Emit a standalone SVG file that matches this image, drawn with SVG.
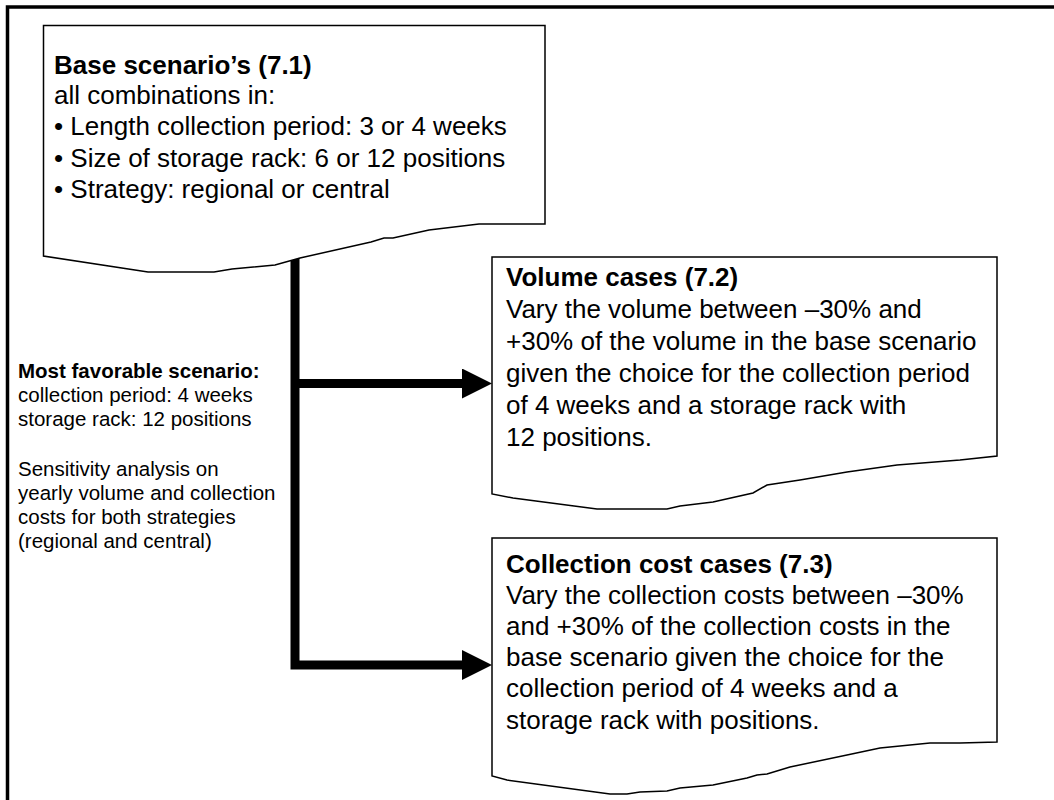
<svg xmlns="http://www.w3.org/2000/svg" width="1054" height="800" viewBox="0 0 1054 800">
<defs>
<style>
.box{fill:#fff;stroke:#000;stroke-width:1.5;stroke-linejoin:miter}
.t{font-family:"Liberation Sans",Arial,sans-serif;font-size:26px;fill:#000}
.s{font-family:"Liberation Sans",Arial,sans-serif;font-size:20.5px;fill:#000}
.b{font-weight:bold}
.conn{fill:none;stroke:#000;stroke-width:9;stroke-linejoin:miter}
</style>
<marker id="ah" markerUnits="userSpaceOnUse" markerWidth="30" markerHeight="30" refX="0" refY="15" orient="auto">
<path d="M0,0 L30,15 L0,30 Z" fill="#000"/>
</marker>
</defs>
<rect width="1054" height="800" fill="#fff"/>
<path d="M7.5,800 V7 H1054" fill="none" stroke="#000" stroke-width="3.5"/>
<g id="connectors">
<path class="conn" d="M295,256 V665 H462" marker-end="url(#ah)"/>
<path class="conn" d="M295,383.5 H462" marker-end="url(#ah)"/>
</g>
<g id="base">
<path class="box" d="M43.5,25.5 H545 V224 L479,224 L429,230 L393,238 L384,238 L371,242 L300,258 L275,265 L232,269 L214,272 L148,272 L43.5,256 Z"/>
<text class="t b" x="54" y="74">Base scenario’s (7.1)</text>
<text class="t" x="54" y="104">all combinations in:</text>
<text class="t" x="54" y="135">• Length collection period: 3 or 4 weeks</text>
<text class="t" x="54" y="167">• Size of storage rack: 6 or 12 positions</text>
<text class="t" x="54" y="198">• Strategy: regional or central</text>
</g>
<g id="note">
<text class="s b" x="18" y="378">Most favorable scenario:</text>
<text class="s" x="18" y="402">collection period: 4 weeks</text>
<text class="s" x="18" y="426">storage rack: 12 positions</text>
<text class="s" x="18" y="476">Sensitivity analysis on</text>
<text class="s" x="18" y="500">yearly volume and collection</text>
<text class="s" x="18" y="524">costs for both strategies</text>
<text class="s" x="18" y="548">(regional and central)</text>
</g>
<g id="volume">
<path class="box" d="M492,257 H997 V456 L960,460 L897,465 L847,472 L800,480 L767,485 L753,493 L713,502 L680,506 L667,509 L597,509 L513,498 L492,494 Z"/>
<text class="t b" x="506" y="286">Volume cases (7.2)</text>
<text class="t" x="506" y="318">Vary the volume between –30% and</text>
<text class="t" x="506" y="350">+30% of the volume in the base scenario</text>
<text class="t" x="506" y="382">given the choice for the collection period</text>
<text class="t" x="506" y="414">of 4 weeks and a storage rack with</text>
<text class="t" x="506" y="446">12 positions.</text>
</g>
<g id="collection">
<path class="box" d="M492,538 H997 V742 L960,743 L930,743 L880,748 L847,755 L790,767 L767,774 L757,775 L747,778 L713,785 L680,788 L667,791 L640,792 L627,794 L610,794 L507,780 L492,776 Z"/>
<text class="t b" x="506" y="573">Collection cost cases (7.3)</text>
<text class="t" x="506" y="604">Vary the collection costs between –30%</text>
<text class="t" x="506" y="635">and +30% of the collection costs in the</text>
<text class="t" x="506" y="666">base scenario given the choice for the</text>
<text class="t" x="506" y="697">collection period of 4 weeks and a</text>
<text class="t" x="506" y="729">storage rack with positions.</text>
</g>
</svg>
